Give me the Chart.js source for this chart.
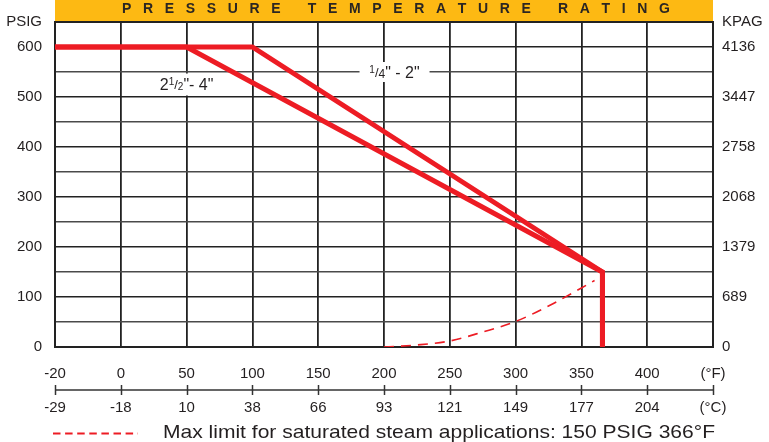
<!DOCTYPE html>
<html><head><meta charset="utf-8">
<script src="https://cdn.jsdelivr.net/npm/chart.js@4.4.0/dist/chart.umd.min.js"></script>
<style>html,body{margin:0;padding:0;background:#fff;overflow:hidden}#wrap{width:769px;height:442px;position:relative}</style>
</head><body><div id="wrap"><canvas id="c" width="769" height="442"></canvas></div>
<script>
// ---- data ----
const fLabels = ['-20','0','50','100','150','200','250','300','350','400','(°F)'];
const cLabels = ['-29','-18','10','38','66','93','121','149','177','204','(°C)'];
const psigLabels = ['0','100','200','300','400','500','600'];
const kpagLabels = ['0','689','1379','2068','2758','3447','4136'];
const smallTemps = [-20, 50, 366, 366];      // 2½" - 4"
const smallPsig  = [600, 600, 150, 0];
const largeTemps = [-20, 100, 366, 366];     // ¼" - 2"
const largePsig  = [600, 600, 150, 0];
const steamTemps = [200, 225, 250, 275, 300, 325, 350, 360];
const steamPsig  = [0, 4, 12, 30, 51, 82, 118, 133];
const titleText = 'PRESSURE TEMPERATURE RATING';
const legendText = 'Max limit for saturated steam applications: 150 PSIG 366°F';
const labelSmall = '2½"- 4"';
const labelLarge = '¼" - 2"';

// axis is evenly spaced per tick: -20..0 one slot, then 50°F per slot
function slot(f){ return f <= 0 ? 1 + f/20 : 1 + f/50; }
const pts = (ts, ps) => ts.map((t,i)=>({x:slot(t), y:ps[i]}));

const FONT = "'Liberation Sans Narrow','Liberation Sans',Arial,sans-serif";
const TXT = '#231f20';
const RED = '#ed1c24';

// draws a label made of pieces: [text, size, dy]
function drawPieces(ctx, pieces, cx, cy){
  let total = 0;
  const ws = pieces.map(p=>{ ctx.font = p[1]+"px 'Liberation Sans',Arial,sans-serif"; const w = ctx.measureText(p[0]).width; total += w; return w; });
  let x = cx - total/2;
  ctx.textAlign='left'; ctx.textBaseline='alphabetic';
  pieces.forEach((p,i)=>{ ctx.font = p[1]+"px 'Liberation Sans',Arial,sans-serif"; ctx.fillText(p[0], x, cy + 5.5 + p[2]); x += ws[i]; });
}

const decor = {
  id:'decor',
  beforeDraw(chart){
    const {ctx, chartArea:a} = chart;
    ctx.save();
    ctx.fillStyle = '#fff'; ctx.fillRect(0,0,chart.width,chart.height);
    ctx.fillStyle = '#fdb913'; ctx.fillRect(a.left, 0, a.right-a.left, a.top-1);
    ctx.restore();
  },
  beforeDatasetsDraw(chart){
    const {ctx, chartArea:a, scales} = chart;
    ctx.save();
    ctx.strokeStyle = '#222'; ctx.lineWidth = 2;
    ctx.strokeRect(a.left, a.top, a.right-a.left, a.bottom-a.top);
    const box = (f, p, w, h) => {
      const x = scales.x.getPixelForValue(slot(f)), y = scales.y.getPixelForValue(p);
      ctx.fillStyle = '#fff'; ctx.fillRect(x-w/2, y-h/2, w, h);
      return [x,y];
    };
    ctx.fillStyle = TXT;
    let [x1,y1] = box(50, 525, 62, 22);
    ctx.fillStyle = TXT;
    drawPieces(ctx, [['2',16,0],['1',10,-5],['/',13,-1],['2',10,0],['"- 4"',16,0]], x1, y1);
    let [x2,y2] = box(208, 550, 70, 20);
    ctx.fillStyle = TXT;
    drawPieces(ctx, [['1',10,-5],['/',13,-1],['4',12,0],['" - 2"',16,0]], x2, y2);
    ctx.restore();
  },
  afterDraw(chart){
    const {ctx, chartArea:a, scales} = chart;
    ctx.save();
    // title with wide letter spacing
    ctx.font = "bold 14px 'Liberation Sans',Arial,sans-serif";
    ctx.fillStyle = '#2b2622'; ctx.textBaseline = 'middle'; ctx.textAlign='left';
    const chars = titleText.split('');
    const ws = chars.map(c=>ctx.measureText(c).width);
    const sum = ws.reduce((s,w)=>s+w,0);
    const x0 = 122, x1 = 670;
    const ls = (x1-x0-sum)/(chars.length-1);
    let x = x0;
    chars.forEach((c,i)=>{ ctx.fillText(c, x, 9.5); x += ws[i]+ls; });
    // tick axis between °F and °C rows
    ctx.strokeStyle = '#333'; ctx.lineWidth = 1.5;
    ctx.beginPath(); ctx.moveTo(a.left, 390); ctx.lineTo(a.right, 390); ctx.stroke();
    for (let i=0;i<fLabels.length;i++){
      const px = Math.round(scales.x.getPixelForValue(i))+0.5;
      ctx.beginPath(); ctx.moveTo(px, 385); ctx.lineTo(px, 395); ctx.stroke();
    }
    // legend
    ctx.strokeStyle = RED; ctx.lineWidth = 2; ctx.setLineDash([7.5,4.6]);
    ctx.beginPath(); ctx.moveTo(53, 433.5); ctx.lineTo(138, 433.5); ctx.stroke();
    ctx.setLineDash([]);
    ctx.font = "19px 'Liberation Sans',Arial,sans-serif";
    const tw = ctx.measureText(legendText).width;
    const s = 552/tw;
    ctx.translate(163, 433); ctx.scale(s,1);
    ctx.fillStyle = TXT; ctx.textBaseline='middle';
    ctx.fillText(legendText, 0, 0);
    ctx.restore();
  }
};

const gridColor = c => (c.tick && c.tick.value % 100 === 0) ? '#222' : '#4a4a4a';
const tickFont = {family:FONT, size:15};

new Chart(document.getElementById('c'), {
  type:'line',
  data:{ datasets:[
    {label:labelSmall, data:pts(smallTemps, smallPsig), borderColor:RED, borderWidth:5, pointRadius:0, fill:false, tension:0, borderJoinStyle:'miter', borderCapStyle:'butt'},
    {label:labelLarge, data:pts(largeTemps, largePsig), borderColor:RED, borderWidth:5, pointRadius:0, fill:false, tension:0, borderJoinStyle:'miter', borderCapStyle:'butt'},
    {label:legendText, data:pts(steamTemps, steamPsig), borderColor:RED, borderWidth:1.6, borderDash:[10,7], pointRadius:0, fill:false, cubicInterpolationMode:'monotone'}
  ]},
  options:{
    responsive:false, devicePixelRatio:1, animation:false,
    layout:{padding:{top:19,left:0,right:0,bottom:0}},
    plugins:{legend:{display:false}, tooltip:{enabled:false}},
    scales:{
      x:{type:'linear', position:'bottom', min:0, max:10,
         ticks:{stepSize:1, autoSkip:false, maxRotation:0, padding:18, color:TXT, font:tickFont,
                callback:v=>fLabels[v] ?? ''},
         grid:{color:'#222', lineWidth:1.8, drawTicks:false}, border:{display:false},
         afterFit:s=>{s.height=43;}},
      x2:{type:'linear', position:'bottom', min:0, max:10,
         ticks:{stepSize:1, autoSkip:false, maxRotation:0, padding:9, color:TXT, font:tickFont,
                callback:v=>cLabels[v] ?? ''},
         grid:{display:false, drawTicks:false}, border:{display:false},
         afterFit:s=>{s.height=52;}},
      y:{type:'linear', position:'left', min:0, max:650,
         ticks:{stepSize:50, autoSkip:false, padding:13, color:TXT, font:tickFont,
                callback:v=> v===650 ? 'PSIG' : (v%100===0 ? psigLabels[v/100] : '')},
         grid:{color:gridColor, lineWidth:1.4, drawTicks:false}, border:{display:false},
         afterFit:s=>{s.width=55;}},
      y2:{type:'linear', position:'right', min:0, max:650,
         ticks:{stepSize:50, autoSkip:false, padding:9, color:TXT, font:tickFont,
                callback:v=> v===650 ? 'KPAG' : (v%100===0 ? kpagLabels[v/100] : '')},
         grid:{display:false, drawTicks:false}, border:{display:false},
         afterFit:s=>{s.width=56;}}
    }
  },
  plugins:[decor]
});
</script></body></html>
